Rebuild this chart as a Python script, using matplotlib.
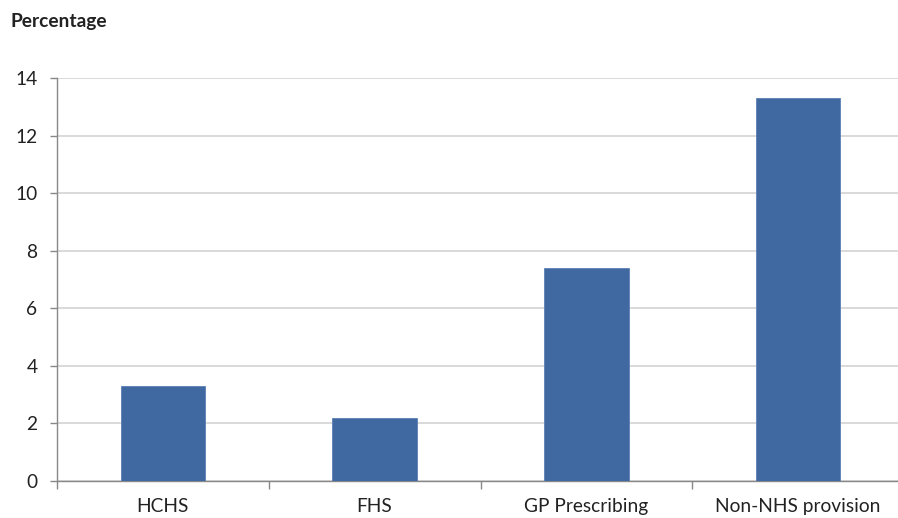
import matplotlib
matplotlib.use("Agg")
import matplotlib.pyplot as plt

categories = ["HCHS", "FHS", "GP Prescribing", "Non-NHS provision"]
values = [3.3, 2.2, 7.4, 13.3]
yticks = [0, 2, 4, 6, 8, 10, 12, 14]

plt.rcParams["font.family"] = ["Lato", "DejaVu Sans"]

W, H = 898, 518
FS = 13.8
fig = plt.figure(figsize=(W / 100, H / 100), dpi=100)
ax = fig.add_axes([57 / W, 1 - 481 / H, (904 - 57) / W, (481 - 78) / H])

x = list(range(len(categories)))
ax.bar(x, values, width=0.4, color="#4169A1", edgecolor="#5B80B5", linewidth=0.6, zorder=3)

ax.set_xlim(-0.5, len(categories) - 0.5)
ax.set_ylim(0, 14)
ax.set_yticks(yticks)
ax.set_yticklabels([str(t) for t in yticks], fontsize=FS, color="#222222")
ax.yaxis.grid(True, color="#D0D0D0", linewidth=1.1, zorder=0)
ax.set_axisbelow(True)

# category labels centred, tick marks at category boundaries
ax.set_xticks(x)
ax.set_xticklabels(categories, fontsize=FS, color="#222222")
ax.tick_params(axis="x", length=0, pad=12)
ax.set_xticks([i - 0.5 for i in range(len(categories) + 1)], minor=True)
ax.tick_params(axis="x", which="minor", length=6, color="#888888", width=1)
ax.tick_params(axis="y", length=5, color="#888888", width=1, pad=9)

for side in ["top", "right"]:
    ax.spines[side].set_visible(False)
for side in ["left", "bottom"]:
    ax.spines[side].set_color("#888888")
    ax.spines[side].set_linewidth(1)

fig.text(10 / W, 1 - 22 / H, "Percentage", fontsize=FS, fontweight="bold",
         color="#222222", va="center", ha="left")

fig.savefig("out.png", dpi=100)
